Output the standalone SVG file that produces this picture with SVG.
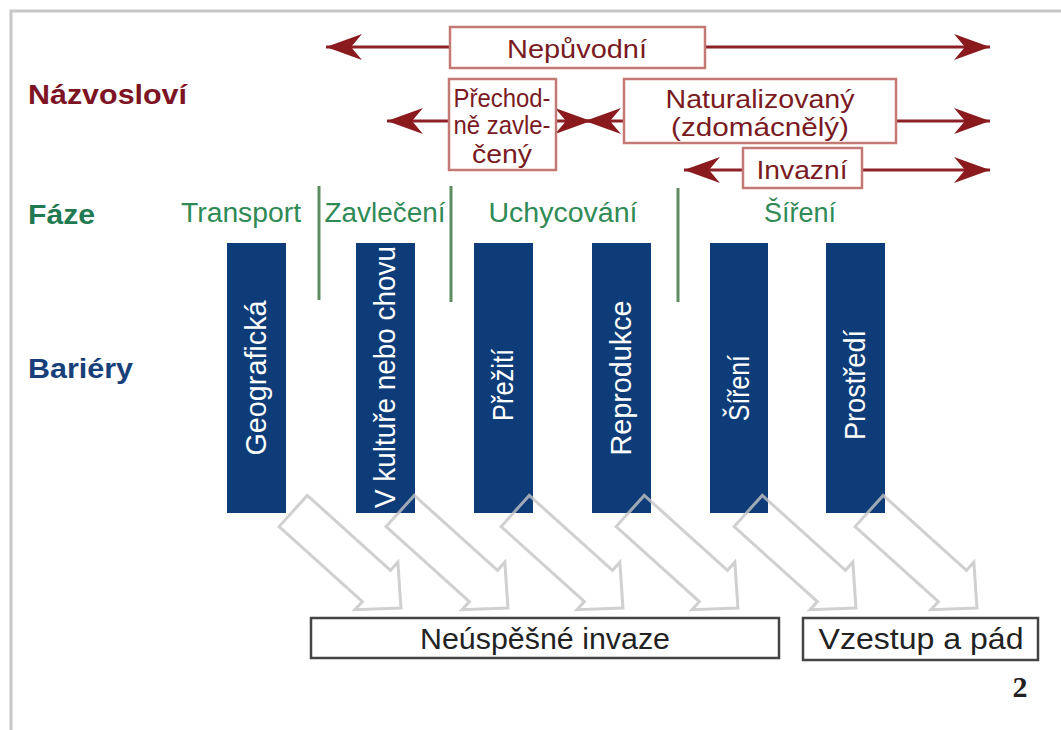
<svg xmlns="http://www.w3.org/2000/svg" xmlns:xlink="http://www.w3.org/1999/xlink" width="1061" height="730" viewBox="0 0 1061 730">
<style>
  .lbl{font-family:"Liberation Sans",Arial,sans-serif;font-weight:bold;font-size:28px}
  .nm{font-family:"Liberation Sans",Arial,sans-serif;font-size:25px;fill:#7a1a22;text-anchor:middle}
  .nbox{fill:#fff;stroke:#c47a74;stroke-width:2.5}
  .nline{stroke:#8e2228;stroke-width:3;fill:none}
  .ph{font-family:"Liberation Sans",Arial,sans-serif;font-size:27px;fill:#2f8a55;text-anchor:middle}
  .gl{stroke:#5e8c62;stroke-width:3}
  .bar{fill:#0d3c78}
  .bt{font-family:"Liberation Sans",Arial,sans-serif;font-size:29px;fill:#fff;text-anchor:middle}
  .ha{fill:none;stroke:#c4c4c4;stroke-width:3;stroke-opacity:0.8}
  .obox{fill:#fff;stroke:#444;stroke-width:2.5}
  .ot{font-family:"Liberation Sans",Arial,sans-serif;font-size:30px;fill:#222;text-anchor:middle}
</style>
<defs>
  <marker id="ah" viewBox="-37 -14 38 28" refX="0" refY="0" markerWidth="38" markerHeight="28" markerUnits="userSpaceOnUse" orient="auto">
    <path d="M0,0 L-36,-13 L-25,0 L-36,13 Z" fill="#8b1a1f"/>
  </marker>
  <polygon id="harrow" points="0,-21 112,-21 112,-32 145,0 112,32 112,21 0,21"/>
</defs>
<rect width="1061" height="730" fill="#fff"/>
<path d="M11,730 L11,11 L1061,11" fill="none" stroke="#c8c8c8" stroke-width="3"/>

<g id="labels">
  <text class="lbl" x="28" y="104" fill="#7d1424" textLength="159" lengthAdjust="spacingAndGlyphs">Názvosloví</text>
  <text class="lbl" x="28" y="224" fill="#1f7a52" textLength="67" lengthAdjust="spacingAndGlyphs">Fáze</text>
  <text class="lbl" x="28" y="378" fill="#173f7a" textLength="105" lengthAdjust="spacingAndGlyphs">Bariéry</text>
</g>

<g id="connectors">
  <line class="nline" x1="450" y1="47" x2="326" y2="47" marker-end="url(#ah)"/>
  <line class="nline" x1="705" y1="47" x2="990" y2="47" marker-end="url(#ah)"/>
  <line class="nline" x1="449" y1="121" x2="387" y2="121" marker-end="url(#ah)"/>
  <line class="nline" x1="556" y1="121" x2="591" y2="121" marker-end="url(#ah)"/>
  <line class="nline" x1="624" y1="121" x2="585" y2="121" marker-end="url(#ah)"/>
  <line class="nline" x1="896" y1="121" x2="990" y2="121" marker-end="url(#ah)"/>
  <line class="nline" x1="743" y1="170" x2="684" y2="170" marker-end="url(#ah)"/>
  <line class="nline" x1="862" y1="170" x2="990" y2="170" marker-end="url(#ah)"/>
</g>

<g id="nepuvodni">
  <rect class="nbox" x="450" y="27" width="255" height="41"/>
  <text class="nm" x="577" y="58" font-size="30" textLength="140" lengthAdjust="spacingAndGlyphs">Nepůvodní</text>
</g>
<g id="prechodne">
  <rect class="nbox" x="449" y="79" width="107" height="91"/>
  <text class="nm" x="502" y="107" font-size="26" textLength="97" lengthAdjust="spacingAndGlyphs">Přechod-</text>
  <text class="nm" x="502" y="134" font-size="26" textLength="97" lengthAdjust="spacingAndGlyphs">ně zavle-</text>
  <text class="nm" x="502" y="163" font-size="26" textLength="60" lengthAdjust="spacingAndGlyphs">čený</text>
</g>
<g id="naturalizovany">
  <rect class="nbox" x="624" y="79" width="272" height="64"/>
  <text class="nm" x="760" y="108" font-size="29" textLength="189" lengthAdjust="spacingAndGlyphs">Naturalizovaný</text>
  <text class="nm" x="760" y="136" font-size="29" textLength="178" lengthAdjust="spacingAndGlyphs">(zdomácnělý)</text>
</g>
<g id="invazni">
  <rect class="nbox" x="743" y="148" width="119" height="40"/>
  <text class="nm" x="802" y="179" font-size="29" textLength="91" lengthAdjust="spacingAndGlyphs">Invazní</text>
</g>

<g id="faze">
  <line class="gl" x1="319" y1="186" x2="319" y2="300"/>
  <line class="gl" x1="451" y1="186" x2="451" y2="302"/>
  <line class="gl" x1="678" y1="188" x2="678" y2="302"/>
  <text class="ph" x="241" y="222" textLength="120" lengthAdjust="spacingAndGlyphs">Transport</text>
  <text class="ph" x="385" y="222" textLength="121" lengthAdjust="spacingAndGlyphs">Zavlečení</text>
  <text class="ph" x="563" y="222" textLength="149" lengthAdjust="spacingAndGlyphs">Uchycování</text>
  <text class="ph" x="800" y="222" textLength="72" lengthAdjust="spacingAndGlyphs">Šíření</text>
</g>

<g id="bar-geograficka">
  <rect class="bar" x="227" y="243" width="59" height="270"/>
  <text class="bt" transform="translate(266,378) rotate(-90)" textLength="155" lengthAdjust="spacingAndGlyphs">Geografická</text>
</g>
<g id="bar-kultura">
  <rect class="bar" x="356" y="243" width="59" height="270"/>
  <text class="bt" transform="translate(395,377) rotate(-90)" textLength="262" lengthAdjust="spacingAndGlyphs">V kultuře nebo chovu</text>
</g>
<g id="bar-preziti">
  <rect class="bar" x="474" y="243" width="59" height="270"/>
  <text class="bt" transform="translate(513,385) rotate(-90)" textLength="72" lengthAdjust="spacingAndGlyphs">Přežití</text>
</g>
<g id="bar-reprodukce">
  <rect class="bar" x="592" y="243" width="59" height="270"/>
  <text class="bt" transform="translate(631,378) rotate(-90)" textLength="155" lengthAdjust="spacingAndGlyphs">Reprodukce</text>
</g>
<g id="bar-sireni">
  <rect class="bar" x="710" y="243" width="58" height="270"/>
  <text class="bt" transform="translate(749,388) rotate(-90)" textLength="66" lengthAdjust="spacingAndGlyphs">Šíření</text>
</g>
<g id="bar-prostredi">
  <rect class="bar" x="826" y="243" width="59" height="270"/>
  <text class="bt" transform="translate(865,385) rotate(-90)" textLength="110" lengthAdjust="spacingAndGlyphs">Prostředí</text>
</g>

<g id="hollow-arrows">
  <use xlink:href="#harrow" class="ha" transform="translate(293.2,511) rotate(42)"/>
  <use xlink:href="#harrow" class="ha" transform="translate(400.2,511) rotate(42)"/>
  <use xlink:href="#harrow" class="ha" transform="translate(515.2,511) rotate(42)"/>
  <use xlink:href="#harrow" class="ha" transform="translate(630.2,511) rotate(42)"/>
  <use xlink:href="#harrow" class="ha" transform="translate(748.2,511) rotate(42)"/>
  <use xlink:href="#harrow" class="ha" transform="translate(869.2,511) rotate(42)"/>
</g>

<g id="neuspesne">
  <rect class="obox" x="311" y="618" width="468" height="40"/>
  <text class="ot" x="545" y="649" textLength="250" lengthAdjust="spacingAndGlyphs">Neúspěšné invaze</text>
</g>
<g id="vzestup">
  <rect class="obox" x="803" y="618" width="235" height="42"/>
  <text class="ot" x="921" y="649" textLength="205" lengthAdjust="spacingAndGlyphs">Vzestup a pád</text>
</g>
<text x="1020" y="697" font-family="'Liberation Serif','Times New Roman',serif" font-weight="bold" font-size="30" fill="#222" text-anchor="middle">2</text>
</svg>
